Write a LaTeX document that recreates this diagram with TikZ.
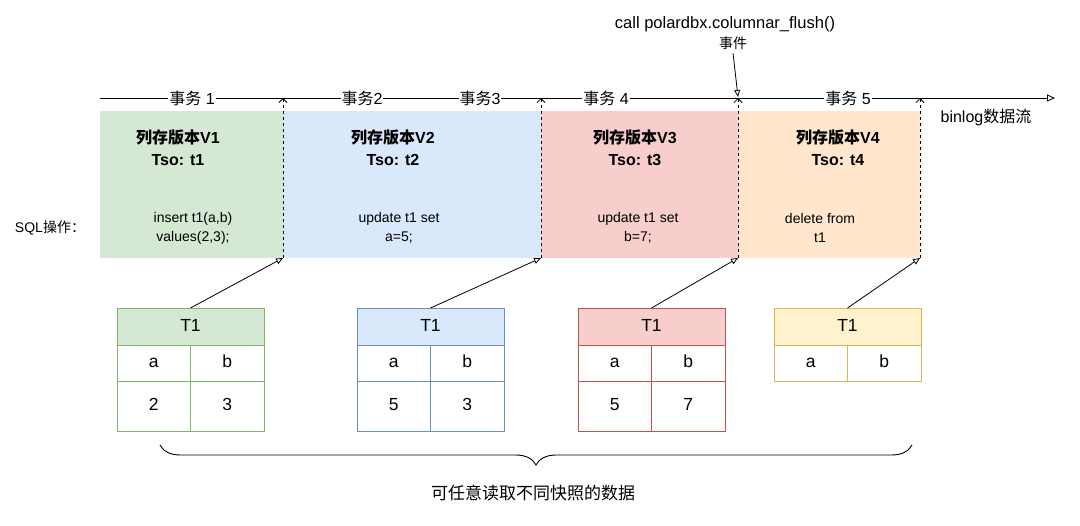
\documentclass[tikz,border=0pt]{standalone}
\usepackage{fontspec}
\setmainfont{Liberation Sans}
\newfontfamily\cjk{Noto Sans CJK SC}
\usepackage{xcolor}
\usepackage{tikz}
\usetikzlibrary{positioning, arrows.meta, decorations.pathreplacing}
\newcommand{\zh}[1]{{\cjk #1}}
\definecolor{grnfill}{HTML}{D5E8D4}
\definecolor{grnline}{HTML}{82B366}
\definecolor{blufill}{HTML}{DAE8FC}
\definecolor{bluline}{HTML}{6C8EBF}
\definecolor{redfill}{HTML}{F8CECC}
\definecolor{redline}{HTML}{B85450}
\definecolor{orgfill}{HTML}{FFE6CC}
\definecolor{ylwfill}{HTML}{FFF2CC}
\definecolor{ylwline}{HTML}{D6B656}
\tikzset{
  verbox/.style={inner sep=0pt, outer sep=0pt, minimum height=147pt, anchor=north west},
  title/.style={align=center, font=\bfseries\fontsize{16}{22}\selectfont},
  body/.style={align=center, font=\fontsize{14}{19}\selectfont},
  onl/.style={fill=white, inner sep=1pt, font=\fontsize{16}{19}\selectfont},
  hdr/.style={draw, line width=0.9pt, minimum width=147pt, minimum height=37pt, inner sep=0pt, outer sep=0pt, text height=12pt, text depth=2pt, font=\fontsize{17.5}{20}\selectfont},
  cell/.style={draw, line width=0.9pt, minimum width=73.5pt, minimum height=36pt, inner sep=0pt, outer sep=0pt, anchor=north west, text height=12pt, text depth=2pt, font=\fontsize{17.5}{20}\selectfont},
  vcell/.style={cell, minimum height=50pt},
  link/.style={line width=0.8pt, -{Triangle[open, length=7pt, width=6pt]}},
  tick/.style={dashed, line width=0.8pt, -{Straight Barb[length=4pt, width=8pt]}}
}
\begin{document}
\begin{tikzpicture}[x=1pt, y=-1pt, font=\fontsize{14}{17}\selectfont]
\useasboundingbox (0,0) rectangle (1080,526);
% version boxes
\node[verbox, fill=grnfill, minimum width=183pt] (v1) at (100,111) {};
\node[verbox, fill=blufill, minimum width=258pt] (v2) at (283,111) {};
\node[verbox, fill=redfill, minimum width=197pt] (v3) at (541,111) {};
\node[verbox, fill=orgfill, minimum width=182pt] (v4) at (738,111) {};
\node[title] (v1t) at (178,148) {\zh{列存版本}V1\\Tso: t1};
\node[title] (v2t) at (393,148) {\zh{列存版本}V2\\Tso: t2};
\node[title] (v3t) at (635,148) {\zh{列存版本}V3\\Tso: t3};
\node[title] (v4t) at (838,148) {\zh{列存版本}V4\\Tso: t4};
\node[body] (v1b) at (193,228) {insert t1(a,b)\\values(2,3);};
\node[body] (v2b) at (399,228) {update t1 set\\a=5;};
\node[body] (v3b) at (638,228) {update t1 set\\b=7;};
\node[body] (v4b) at (820,228) {delete from\\t1};
\node (sql) at (50,228) {SQL\zh{操作：}};

% binlog timeline
\coordinate (tl0) at (100,98);
\coordinate (tl1) at (1055,98);
\coordinate (flush) at (738,97);
\draw[line width=0.8pt, -{Triangle[open, length=8pt, width=7pt]}] (tl0) -- (tl1);
\node[onl] (e1) at (192,98) {\zh{事务} 1};
\node[onl] (e2) at (362,98) {\zh{事务}2};
\node[onl] (e3) at (480,98) {\zh{事务}3};
\node[onl] (e4) at (606,98) {\zh{事务} 4};
\node[onl] (e5) at (848,98) {\zh{事务} 5};
\node[font=\fontsize{16}{19}\selectfont] (bl) at (986,117) {binlog\zh{数据流}};
\foreach \v in {v1,v2,v3,v4}
  \draw[tick] (\v.south east) -- (\v.south east |- tl0);

% flush event
\node[font=\fontsize{16.5}{19}\selectfont] (call) at (725,24) {call polardbx.columnar\_flush()};
\node (ev) at (733,43) {\zh{事件}};
\draw[link] (ev.south) -- (flush);

% tables
\foreach \n/\x/\fc/\lc/\va/\vb/\v in {g/117/grnfill/grnline/2/3/v1, b/357/blufill/bluline/5/3/v2, r/578/redfill/redline/5/7/v3} {
  \node[hdr, fill=\fc, draw=\lc, anchor=north west] (\n-h) at (\x,308) {T1};
  \node[cell, draw=\lc] (\n-a) at (\n-h.south west) {a};
  \node[cell, draw=\lc] (\n-b) at (\n-a.north east) {b};
  \node[vcell, draw=\lc] (\n-1) at (\n-a.south west) {\va};
  \node[vcell, draw=\lc] (\n-2) at (\n-1.north east) {\vb};
  \draw[link] (\n-h.north) -- (\v.south east);
}
\node[hdr, fill=ylwfill, draw=ylwline, anchor=north west] (y-h) at (774,308) {T1};
\node[cell, draw=ylwline] (y-a) at (y-h.south west) {a};
\node[cell, draw=ylwline] (y-b) at (y-a.north east) {b};
\draw[link] (y-h.north) -- (v4.south east);

% snapshot brace
\draw[line width=0.9pt, decorate, decoration={brace, mirror, amplitude=20pt}] (160,445) -- (912,445);
\node[font=\fontsize{17}{20}\selectfont] (rd) at (533,493) {\zh{可任意读取不同快照的数据}};
\end{tikzpicture}
\end{document}
